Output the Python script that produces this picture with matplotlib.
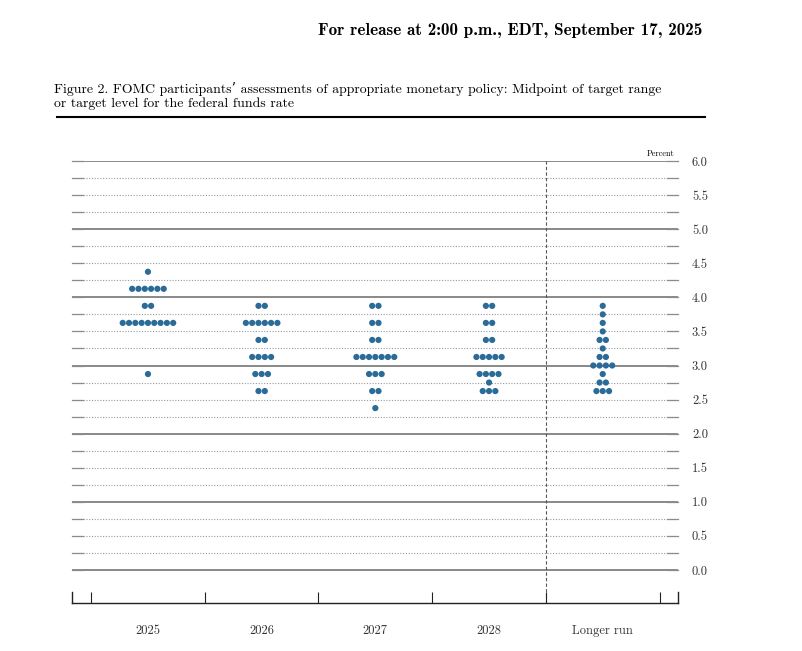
import matplotlib
matplotlib.use("Agg")
import matplotlib.pyplot as plt
import numpy as np

# FOMC dot plot, September 2025: midpoint levels and number of participants
categories = ["2025", "2026", "2027", "2028", "Longer run"]

rates_2025 = [4.375, 4.125, 3.875, 3.625, 2.875]
counts_2025 = [1, 6, 2, 9, 1]

rates_2026 = [3.875, 3.625, 3.375, 3.125, 2.875, 2.625]
counts_2026 = [2, 6, 2, 4, 3, 2]

rates_2027 = [3.875, 3.625, 3.375, 3.125, 2.875, 2.625, 2.375]
counts_2027 = [2, 2, 2, 7, 3, 2, 1]

rates_2028 = [3.875, 3.625, 3.375, 3.125, 2.875, 2.75, 2.625]
counts_2028 = [2, 2, 2, 5, 4, 1, 3]

rates_lr = [3.875, 3.75, 3.625, 3.5, 3.375, 3.25, 3.125, 3.0, 2.875, 2.75, 2.625]
counts_lr = [1, 1, 1, 1, 2, 1, 2, 4, 1, 2, 3]

ytick_values = [0.0, 0.5, 1.0, 1.5, 2.0, 2.5, 3.0, 3.5, 4.0, 4.5, 5.0, 5.5, 6.0]

plt.rcParams["font.family"] = ["cmr10", "DejaVu Serif"]
plt.rcParams["axes.formatter.use_mathtext"] = True

dot_color = "#2b6b98"

fig = plt.figure(figsize=(8.03, 6.51), dpi=100)
ax = fig.add_axes([72 / 803, 48 / 651, 606 / 803, 442 / 651])
ax.set_xlim(-0.668, 4.662)
ax.set_ylim(-0.484, 6.0)

# gridlines every quarter point
for y in np.arange(0, 6.01, 0.25):
    if abs(y - round(y)) < 1e-9:
        ax.axhline(y, color="#6a6a6a", lw=1.1, zorder=1)
    else:
        ax.axhline(y, color="#9a9a9a", lw=0.8, ls=(0, (1, 1.5)), zorder=1)
    # short solid stubs at both ends
    ax.plot([0, 0.018], [y, y], transform=ax.get_yaxis_transform(), color="#8c8c8c",
            lw=0.9, zorder=1, clip_on=False)
    ax.plot([0.982, 1.0], [y, y], transform=ax.get_yaxis_transform(), color="#8c8c8c",
            lw=0.9, zorder=1, clip_on=False)

ax.axvline(3.5, color="#555555", lw=0.8, ls=(0, (3, 2)), zorder=1)

spacing = 0.0555
all_rates = [rates_2025, rates_2026, rates_2027, rates_2028, rates_lr]
all_counts = [counts_2025, counts_2026, counts_2027, counts_2028, counts_lr]
for i, (rates, counts) in enumerate(zip(all_rates, all_counts)):
    for r, n in zip(rates, counts):
        xs = i + (np.arange(n) - (n - 1) / 2) * spacing
        ax.scatter(xs, [r] * n, s=20, color=dot_color, edgecolors="none", zorder=3)

# axes styling
for side in ["top", "left", "right"]:
    ax.spines[side].set_visible(False)
ax.spines["bottom"].set_color("#222222")
ax.spines["bottom"].set_linewidth(1.0)
ax.set_xticks(np.arange(-0.5, 5.0, 1.0))
ax.set_xticklabels([])
ax.set_xticks(np.arange(len(categories)), minor=True)
ax.set_xticklabels(categories, minor=True, fontsize=9, color="#333333")
ax.tick_params(axis="x", which="major", direction="in", length=8, width=0.8, color="#222222")
ax.tick_params(axis="x", which="minor", length=0, pad=16)
# end caps of the bottom axis
for xe in [0, 1]:
    ax.plot([xe, xe], [0, 0.025], transform=ax.transAxes, color="#222222", lw=1.0, clip_on=False)

ax.set_yticks(ytick_values)
ax.set_yticklabels([f"{v:.1f}" for v in ytick_values], fontsize=9, color="#333333")
ax.yaxis.tick_right()
ax.tick_params(axis="y", length=0, pad=10)

ax.text(0.995, 6.05, "Percent", transform=ax.get_yaxis_transform(), ha="right", va="bottom",
        fontsize=6)

fig.text(702 / 803, 1 - 30 / 651, "For release at 2:00 p.m., EDT, September 17, 2025",
         ha="right", va="center", fontsize=12.3, family=["cmb10", "DejaVu Serif"])
fig.text(54 / 803, 1 - 89 / 651,
         "Figure 2. FOMC participants\u2019 assessments of appropriate monetary policy: Midpoint of target range",
         ha="left", va="center", fontsize=9.9)
fig.text(54 / 803, 1 - 104 / 651, "or target level for the federal funds rate",
         ha="left", va="center", fontsize=9.9)
fig.add_artist(plt.Line2D([57 / 803, 705 / 803], [1 - 117 / 651, 1 - 117 / 651],
                          color="black", lw=1.5))

fig.savefig("out.png", dpi=100)
